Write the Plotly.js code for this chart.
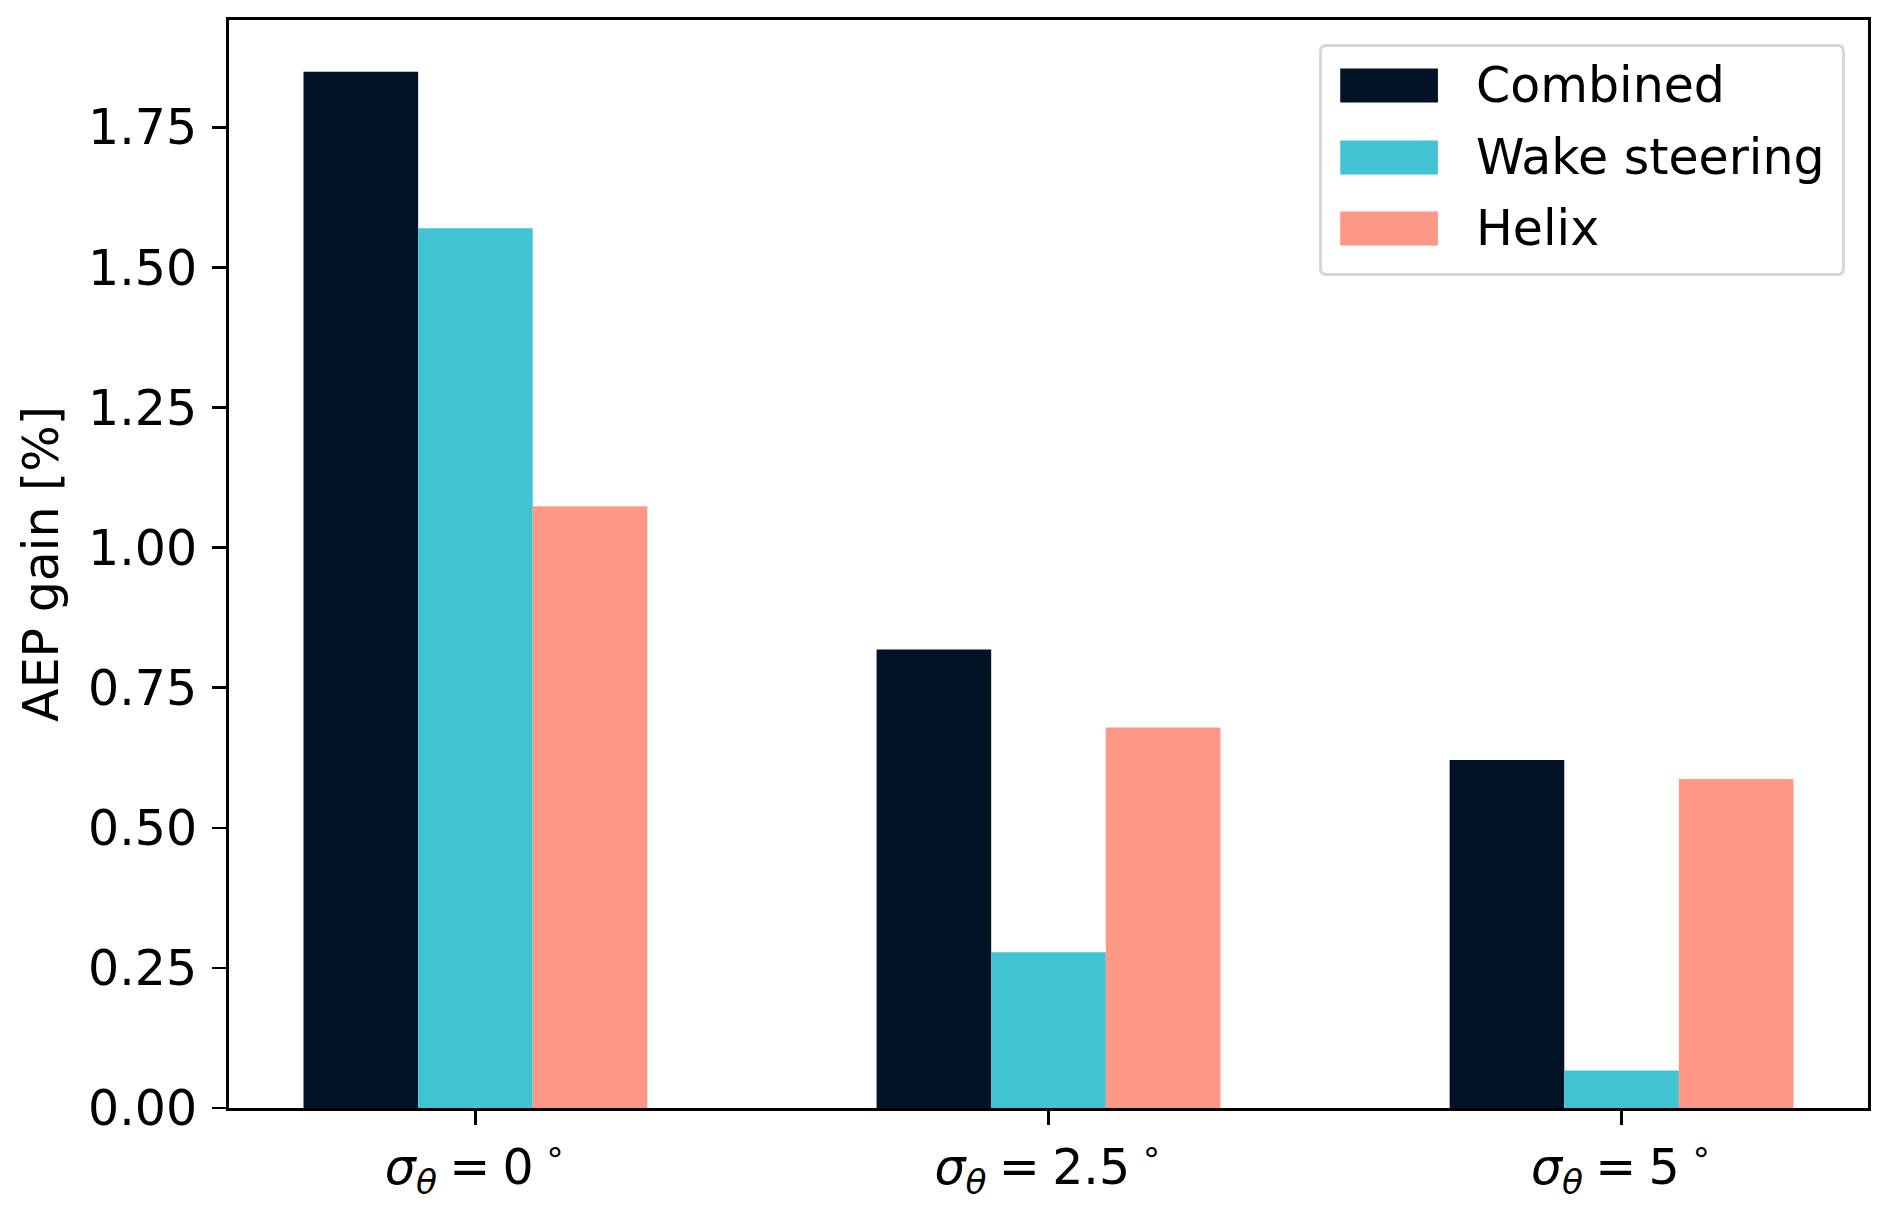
<!DOCTYPE html>
<html>
<head>
<meta charset="utf-8">
<script src="https://cdn.plot.ly/plotly-3.0.1.min.js"></script>
<style>
  body { margin: 0; background: #fff; }
  #chart { width: 1892px; height: 1207px; }
</style>
</head>
<body>
<div id="chart"></div>
<script>
/* ---------- data ---------- */
const groupPos = [0, 1, 2];
const tickLabels = [
    '<i>σ</i><sub><i>θ</i></sub>\u2005=\u20050<sup> ∘</sup>',
    '<i>σ</i><sub><i>θ</i></sub>\u2005=\u20052.5<sup> ∘</sup>',
    '<i>σ</i><sub><i>θ</i></sub>\u2005=\u20055<sup> ∘</sup>'
];
const seriesNames = ['Combined', 'Wake steering', 'Helix'];
const combined = [1.849, 0.818, 0.621];
const wakeSteering = [1.570, 0.278, 0.067];
const helix = [1.074, 0.679, 0.587];
const yTicks = [0, 0.25, 0.5, 0.75, 1.0, 1.25, 1.5, 1.75];

const colors = ['#011324', '#41C3D3', '#FE9886'];
const FONT = 'DejaVu Sans, sans-serif';
const FS = 49;

/* ---------- traces ---------- */
const seriesValues = [combined, wakeSteering, helix];
const traces = seriesValues.map((vals, i) => ({
    type: 'bar',
    x: groupPos,
    y: vals,
    name: seriesNames[i],
    marker: { color: colors[i], line: { width: 0 } },
    showlegend: false,
    hoverinfo: 'skip'
}));

/* ---------- hand made legend (matplotlib style boxes) ---------- */
const lg = { x0: 0.666, x1: 0.985, y0: 0.766, y1: 0.9766, rx: 0.0037, ry: 0.0055 };
const boxPath =
    `M${lg.x0 + lg.rx},${lg.y0} L${lg.x1 - lg.rx},${lg.y0} Q${lg.x1},${lg.y0} ${lg.x1},${lg.y0 + lg.ry} ` +
    `L${lg.x1},${lg.y1 - lg.ry} Q${lg.x1},${lg.y1} ${lg.x1 - lg.rx},${lg.y1} ` +
    `L${lg.x0 + lg.rx},${lg.y1} Q${lg.x0},${lg.y1} ${lg.x0},${lg.y1 - lg.ry} ` +
    `L${lg.x0},${lg.y0 + lg.ry} Q${lg.x0},${lg.y0} ${lg.x0 + lg.rx},${lg.y0} Z`;

const rowY = [0.9398, 0.8736, 0.8083];
const shapes = [{
    type: 'path', xref: 'paper', yref: 'paper', path: boxPath,
    fillcolor: 'rgba(255,255,255,0.8)', line: { color: '#d6d6d6', width: 3 }
}];
const annotations = [];
seriesNames.forEach((name, i) => {
    shapes.push({
        type: 'rect', xref: 'paper', yref: 'paper',
        x0: 0.678, x1: 0.7376, y0: rowY[i] - 0.0156, y1: rowY[i] + 0.0156,
        fillcolor: colors[i], line: { width: 0 }
    });
    annotations.push({
        xref: 'paper', yref: 'paper', x: 0.7595, y: rowY[i],
        xanchor: 'left', yanchor: 'middle', showarrow: false,
        text: name, font: { family: FONT, size: FS, color: '#000' }
    });
});

/* ---------- layout ---------- */
const layout = {
    width: 1892,
    height: 1207,
    margin: { l: 229, r: 24, t: 20, b: 99 },
    paper_bgcolor: '#fff',
    plot_bgcolor: '#fff',
    font: { family: FONT, size: FS, color: '#000' },
    barmode: 'group',
    bargap: 0.4,
    bargroupgap: 0,
    xaxis: {
        range: [-0.43, 2.43],
        tickvals: groupPos,
        ticktext: tickLabels,
        showgrid: false, zeroline: false,
        showline: true, mirror: true, linecolor: '#000', linewidth: 3,
        ticks: 'outside', ticklen: 14, tickwidth: 2.5, tickcolor: '#000',
        tickfont: { family: FONT, size: FS }
    },
    yaxis: {
        range: [0, 1.9415],
        tickvals: yTicks,
        tickformat: '.2f',
        showgrid: false, zeroline: false,
        showline: true, mirror: true, linecolor: '#000', linewidth: 3,
        ticks: 'outside', ticklen: 14, tickwidth: 2.5, tickcolor: '#000',
        ticklabelstandoff: 5,
        tickfont: { family: FONT, size: FS },
        title: { text: 'AEP gain [%]', font: { family: FONT, size: FS }, standoff: 14 }
    },
    shapes: shapes,
    annotations: annotations
};

Plotly.newPlot('chart', traces, layout, { staticPlot: true, displayModeBar: false });
</script>
</body>
</html>
